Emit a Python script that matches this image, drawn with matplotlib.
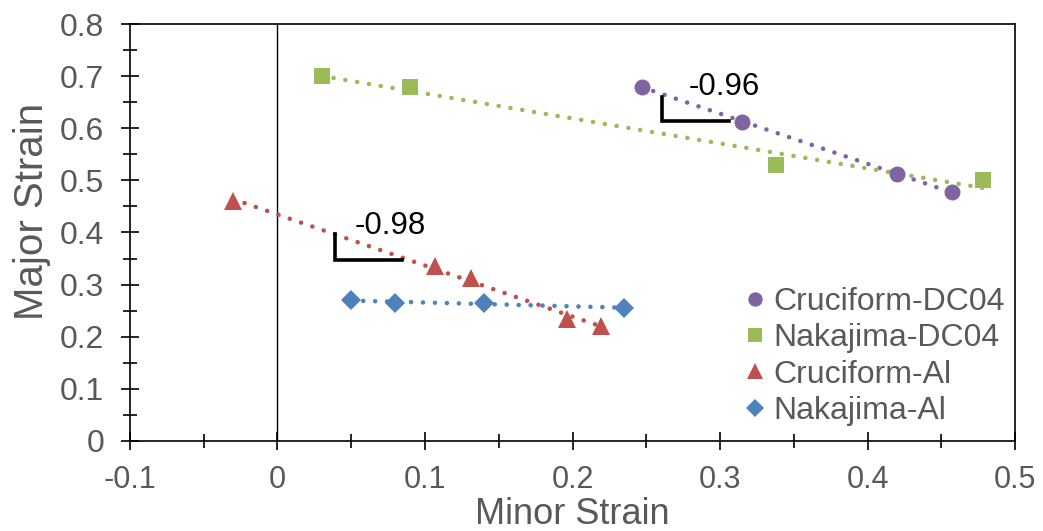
import numpy as np
import matplotlib
matplotlib.use('Agg')
import matplotlib.pyplot as plt
from matplotlib.ticker import MultipleLocator

plt.rcParams['font.family'] = ['Liberation Sans', 'DejaVu Sans']

# --- data ---
cruc_dc04_x = [0.247, 0.315, 0.420, 0.457]
cruc_dc04_y = [0.680, 0.612, 0.512, 0.478]

naka_dc04_x = [0.030, 0.090, 0.338, 0.478]
naka_dc04_y = [0.700, 0.680, 0.530, 0.500]

cruc_al_x = [-0.030, 0.107, 0.131, 0.196, 0.219]
cruc_al_y = [0.460, 0.335, 0.313, 0.235, 0.220]

naka_al_x = [0.050, 0.080, 0.140, 0.235]
naka_al_y = [0.270, 0.265, 0.265, 0.255]

labels = ['Cruciform-DC04', 'Nakajima-DC04', 'Cruciform-Al', 'Nakajima-Al']
colors = ['#8064A2', '#9BBB59', '#C0504D', '#4F81BD']
markers = ['o', 's', '^', 'D']
msizes = [11.5, 11.5, 12.5, 10.5]

# slope brackets: (corner x, top y, bottom y, right x), text pos, text
brackets = [((0.2605, 0.660, 0.6135, 0.306), (0.279, 0.679), '-0.96'),
            ((0.0392, 0.398, 0.348, 0.0846), (0.052, 0.413), '-0.98')]

series = [(cruc_dc04_x, cruc_dc04_y), (naka_dc04_x, naka_dc04_y),
          (cruc_al_x, cruc_al_y), (naka_al_x, naka_al_y)]

fig = plt.figure(figsize=(10.43, 5.31), dpi=100)
ax = fig.add_axes([0.1246, 0.1695, 0.8486, 0.7853])

for (x, y), lab, c, m, ms in zip(series, labels, colors, markers, msizes):
    x = np.array(x)
    y = np.array(y)
    # linear trendline over the data range
    k, b = np.polyfit(x, y, 1)
    xs = np.array([x.min(), x.max()])
    ax.plot(xs, k * xs + b, color=c, lw=3.3, linestyle=(0, (0.01, 2.6)),
            dash_capstyle='round', zorder=2)
    ax.plot(x, y, linestyle='none', marker=m, ms=ms, color=c,
            markeredgewidth=0, label=lab, zorder=3)

for (cx, ty, by, rx), (tx, tyy), txt in brackets:
    ax.plot([cx, cx, rx], [ty, by, by], color='black', lw=2.6,
            solid_joinstyle='miter', zorder=4)
    ax.text(tx, tyy, txt, fontsize=22.5, color='black', ha='left', va='center')

ax.axvline(0, color='black', lw=1.0, zorder=1)

ax.set_xlim(-0.1, 0.5)
ax.set_ylim(0, 0.8)
ax.xaxis.set_major_locator(MultipleLocator(0.1))
ax.xaxis.set_minor_locator(MultipleLocator(0.05))
ax.yaxis.set_major_locator(MultipleLocator(0.1))
ax.yaxis.set_minor_locator(MultipleLocator(0.05))
ax.xaxis.set_major_formatter(lambda v, p: '0' if abs(v) < 1e-9 else f'{v:.1f}')
ax.yaxis.set_major_formatter(lambda v, p: '0' if abs(v) < 1e-9 else f'{v:.1f}')

for s in ax.spines.values():
    s.set_color('black')
    s.set_linewidth(1.2)

ax.tick_params(which='major', direction='inout', length=13, width=1.2,
               color='black', labelcolor='#595959')
ax.tick_params(which='minor', direction='inout', length=10, width=1.2,
               color='black')
ax.tick_params(axis='y', which='major', labelsize=23, pad=12)
ax.tick_params(axis='x', which='major', labelsize=22, pad=11)

ax.text(-0.111, 0.55, 'Major Strain', transform=ax.transAxes, rotation=90,
        ha='center', va='center', fontsize=29, color='#595959')
ax.text(0.5, -0.177, 'Minor Strain', transform=ax.transAxes,
        ha='center', va='center', fontsize=26, color='#595959')

leg = ax.legend(loc='center left', bbox_to_anchor=(0.695, 0.203), frameon=False,
                fontsize=23, labelcolor='#595959', handlelength=0.65,
                handletextpad=0.25, labelspacing=0.2, borderpad=0,
                borderaxespad=0, markerscale=0.9)

fig.savefig('out.png', dpi=100)
